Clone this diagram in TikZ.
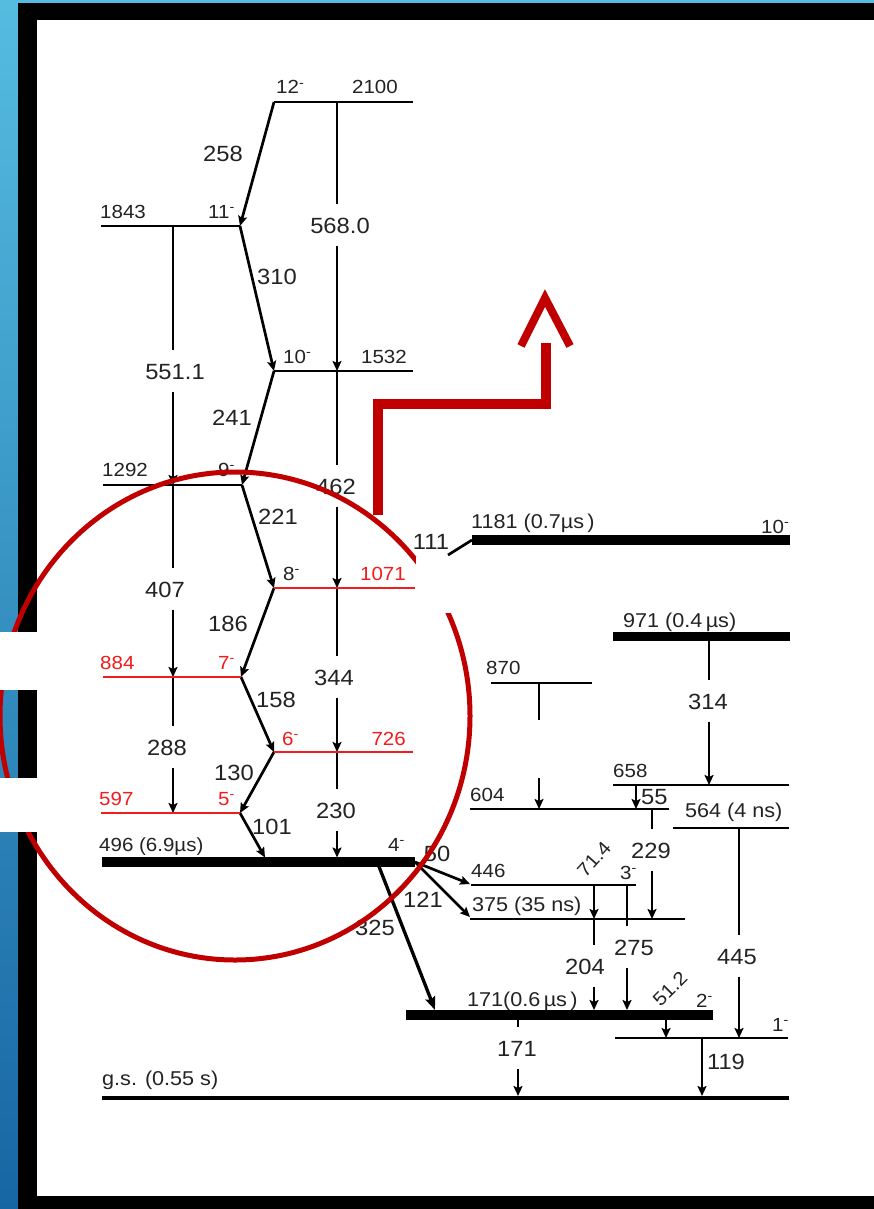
\documentclass[tikz,border=0pt]{standalone}
\usepackage{fontspec}
\setmainfont{Liberation Sans}[FakeStretch=1.08]
\usetikzlibrary{arrows.meta}
\definecolor{txt}{HTML}{232323}
\definecolor{lvred}{HTML}{F21C1C}
\definecolor{mk}{HTML}{C00000}
\definecolor{blueT}{HTML}{55BCE0}
\definecolor{blueB}{HTML}{1766A3}
\newcommand\mneg{\textsuperscript{-}}
\tikzset{
  lv/.style={line width=2.6pt},
  lvr/.style={line width=2.4pt, draw=lvred},
  lvt/.style={line width=9.5pt},
  tr/.style={line width=2.7pt, -{Stealth[length=10pt,width=9pt,inset=2pt]}},
  trn/.style={line width=2.7pt},
  gl/.style={font=\fontsize{22}{22}\selectfont, text=txt, inner sep=0pt},
  gg/.style={gl, inner xsep=1pt, inner ysep=12.5pt, text height=16pt, text depth=0pt},
  gr/.style={gl, font=\fontsize{19}{19}\selectfont},
  ll/.style={font=\fontsize{19}{19}\selectfont, text=txt, inner sep=0pt},
  llr/.style={ll, text=lvred},
  rl/.style={font=\fontsize{20}{20}\selectfont, text=txt, inner sep=0pt},
  hl/.style={draw=mk, line width=5pt},
}
\begin{document}
\begin{tikzpicture}[x=1pt,y=-1pt]
\useasboundingbox (0,0) rectangle (874,1209);
% frame
\shade[top color=blueT, bottom color=blueB] (0,0) rectangle (874,1209);
\fill[black] (18,3) rectangle (874,1209);
\fill[white] (37,20) rectangle (874,1196);

% ---------- left band levels ----------
\coordinate (a2100) at (274,102); \coordinate (b2100) at (413,102);
\coordinate (a1843) at (101,226); \coordinate (b1843) at (240,226);
\coordinate (a1532) at (274,371); \coordinate (b1532) at (413,371);
\coordinate (a1292) at (103,485); \coordinate (b1292) at (242,485);
\coordinate (a1071) at (274,588); \coordinate (b1071) at (415,588);
\coordinate (a884) at (103,677);  \coordinate (b884) at (241,677);
\coordinate (a726) at (274,752);  \coordinate (b726) at (413,752);
\coordinate (a597) at (101,813);  \coordinate (b597) at (240,813);
\coordinate (a496) at (102,862);  \coordinate (b496) at (415,862);

% vertical attach points
\coordinate (v1843) at (173,226); \coordinate (v1292) at (173,485);
\coordinate (v884) at (173,677);  \coordinate (v597) at (173,813);
\coordinate (w2100) at (337,102); \coordinate (w1532) at (337,371);
\coordinate (w1071) at (337,588); \coordinate (w726) at (337,752);
\coordinate (w496) at (337,857.5); \coordinate (e101) at (265,857.5);

% zig-zag transitions
\draw[tr] (a2100) -- (b1843);
\draw[tr] (b1843) -- (a1532);
\draw[tr] (a1532) -- (b1292);
\draw[tr] (b1292) -- (a1071);
\draw[tr] (a1071) -- (b884);
\draw[tr] (b884) -- (a726);
\draw[tr] (a726) -- (b597);
\draw[tr] (b597) -- (e101);
\node[gl] (t258) at (223,154) {258};
\node[gl] (t310) at (277,277) {310};
\node[gl] (t241) at (232,418) {241};
\node[gl] (t221) at (278,517) {221};
\node[gl] (t186) at (228,624) {186};
\node[gl] (t158) at (276,700) {158};
\node[gl] (t130) at (234,773) {130};
\node[gl] (t101) at (272,827) {101};

% vertical transitions with label gaps
\node[gg] (g568) at (340,225) {568.0};
\draw[trn] (w2100) -- (w2100 |- g568.north);
\draw[tr] (w2100 |- g568.south) -- (w1532);
\node[gg] (g462) at (336,486) {462};
\draw[trn] (w1532) -- (w1532 |- g462.north);
\draw[tr] (w1532 |- g462.south) -- (w1071);
\node[gg] (g344) at (334,677) {344};
\draw[trn] (w1071) -- (w1071 |- g344.north);
\draw[tr] (w1071 |- g344.south) -- (w726);
\node[gg] (g230) at (336,810) {230};
\draw[trn] (w726) -- (w726 |- g230.north);
\draw[tr] (w726 |- g230.south) -- (w496);
\node[gg] (g551) at (175,371) {551.1};
\draw[trn] (v1843) -- (v1843 |- g551.north);
\draw[tr] (v1843 |- g551.south) -- (v1292);
\node[gg] (g407) at (165,589) {407};
\draw[trn] (v1292) -- (v1292 |- g407.north);
\draw[tr] (v1292 |- g407.south) -- (v884);
\node[gg] (g288) at (167,747) {288};
\draw[trn] (v884) -- (v884 |- g288.north);
\draw[tr] (v884 |- g288.south) -- (v597);

% level lines
\draw[lv] (a2100) -- (b2100);
\draw[lv] (a1843) -- (b1843);
\draw[lv] (a1532) -- (b1532);
\draw[lv] (a1292) -- (b1292);
\draw[lvr] (a1071) -- (b1071);
\draw[lvr] (a884) -- (b884);
\draw[lvr] (a726) -- (b726);
\draw[lvr] (a597) -- (b597);
\draw[lvt] (a496) -- (b496);

% level labels
\node[ll, anchor=base west] (s12) at (276,94) {12\mneg};
\node[ll, anchor=base east] (e2100) at (398,94) {2100};
\node[ll, anchor=base west] (e1843) at (100,218) {1843};
\node[ll, anchor=base west] (s11) at (208,218) {11\mneg};
\node[ll, anchor=base west] (s10) at (283,363) {10\mneg};
\node[ll, anchor=base east] (e1532) at (407,363) {1532};
\node[ll, anchor=base west] (e1292) at (102,476) {1292};
\node[ll, anchor=base west] (s9) at (218,476) {9\mneg};
\node[ll, anchor=base west] (s8) at (283,580) {8\mneg};
\node[llr, anchor=base east] (e1071) at (406,580) {1071};
\node[llr, anchor=base west] (e884) at (100,669) {884};
\node[llr, anchor=base west] (s7) at (218,669) {7\mneg};
\node[llr, anchor=base west] (s6) at (282,745) {6\mneg};
\node[llr, anchor=base east] (e726) at (406,745) {726};
\node[llr, anchor=base west] (e597) at (99,805) {597};
\node[llr, anchor=base west] (s5) at (218,805) {5\mneg};
\node[ll, anchor=base west] (e496) at (99,851) {496 (6.9µs)};
\node[ll, anchor=base west] (s4) at (388,851) {4\mneg};

% ---------- right band levels ----------
\coordinate (a1181) at (472,540); \coordinate (b1181) at (790,540);
\coordinate (a971) at (613,636);  \coordinate (b971) at (790,636);
\coordinate (a870) at (491,683);  \coordinate (b870) at (592,683);
\coordinate (a658) at (613,785);  \coordinate (b658) at (789,785);
\coordinate (a604) at (470,809);  \coordinate (b604) at (669,809);
\coordinate (a564) at (673,828);  \coordinate (b564) at (789,828);
\coordinate (a446) at (471,885);  \coordinate (b446) at (636,885);
\coordinate (a375) at (470,919);  \coordinate (b375) at (685,919);
\coordinate (a171) at (406,1015); \coordinate (b171) at (713,1015);
\coordinate (a1m) at (615,1038);  \coordinate (b1m) at (788,1038);
\coordinate (ags) at (102,1098);  \coordinate (bgs) at (789,1098);

% right transitions
\coordinate (s111) at (448,555);
\draw[trn] (s111) -- (a1181);
\node[gl] (t111) at (431,542) {111};

\coordinate (p314a) at (709,636); \coordinate (p314b) at (709,785);
\node[gg] (g314) at (708,701) {314};
\draw[trn] (p314a) -- (p314a |- g314.north);
\draw[tr] (p314a |- g314.south) -- (p314b);

\coordinate (p870a) at (539,683); \coordinate (p870b) at (539,720);
\coordinate (p870c) at (539,778); \coordinate (p870d) at (539,809);
\draw[trn] (p870a) -- (p870b);
\draw[tr] (p870c) -- (p870d);

\coordinate (p55a) at (636,785); \coordinate (p55b) at (636,809);
\draw[tr] (p55a) -- (p55b);
\node[gl, anchor=west] (t55) at (641,797) {55};

\coordinate (p229a) at (652,809); \coordinate (p229b) at (652,919);
\node[gg] (g229) at (651,850) {229};
\draw[trn] (p229a) -- (p229a |- g229.north);
\draw[tr] (p229a |- g229.south) -- (p229b);

\coordinate (p445a) at (739,828); \coordinate (p445b) at (739,1038);
\node[gg] (g445) at (737,956) {445};
\draw[trn] (p445a) -- (p445a |- g445.north);
\draw[tr] (p445a |- g445.south) -- (p445b);

\coordinate (e50) at (470,884); \coordinate (e121) at (470,917);
\draw[tr] (b496) -- (e50);
\draw[tr] (b496) -- (e121);
\node[gl] (t50) at (437,854) {50};
\node[gl] (t121) at (423,900) {121};

\coordinate (s325) at (378,864); \coordinate (e325) at (435,1010);
\draw[line width=3.3pt, -{Stealth[length=13pt,width=10pt,inset=2pt]}] (s325) -- (e325);
\node[gl] (t325) at (375,928) {325};

\coordinate (p71a) at (594,885); \coordinate (p71b) at (594,919);
\draw[tr] (p71a) -- (p71b);
\node[gr, rotate=48] (t71) at (594,859) {71.4};

\coordinate (p204b) at (594,1010);
\node[gg] (g204) at (585,966) {204};
\draw[trn] (p71b) -- (p71b |- g204.north);
\draw[tr] (p71b |- g204.south) -- (p204b);

\coordinate (p275a) at (627,885); \coordinate (p275b) at (627,1010);
\node[gg] (g275) at (634,947) {275};
\draw[trn] (p275a) -- (p275a |- g275.north);
\draw[tr] (p275a |- g275.south) -- (p275b);

\coordinate (p51a) at (666,1015); \coordinate (p51b) at (666,1038);
\draw[tr] (p51a) -- (p51b);
\node[gr, rotate=45] (t51) at (670,989) {51.2};

\coordinate (p119a) at (702,1038); \coordinate (p119b) at (702,1096);
\draw[tr] (p119a) -- (p119b);
\node[gl] (t119) at (726,1062) {119};

\coordinate (p171a) at (518,1015); \coordinate (p171b) at (518,1096);
\node[gg] (g171) at (517,1048) {171};
\draw[trn] (p171a) -- (p171a |- g171.north);
\draw[tr] (p171a |- g171.south) -- (p171b);

% right level lines
\draw[line width=10pt] (a1181) -- (b1181);
\draw[line width=9pt] (a971) -- (b971);
\draw[lv] (a870) -- (b870);
\draw[lv] (a658) -- (b658);
\draw[lv] (a604) -- (b604);
\draw[lv] (a564) -- (b564);
\draw[lv] (a446) -- (b446);
\draw[lv] (a375) -- (b375);
\draw[line width=10pt] (a171) -- (b171);
\draw[lv] (a1m) -- (b1m);
\draw[line width=3.5pt] (ags) -- (bgs);

% right level labels
\node[rl, anchor=base west] (e1181) at (471,528) {1181 (0.7µs\,)};
\node[ll, anchor=base west] (s10b) at (761,533) {10\mneg};
\node[rl, anchor=base west] (e971) at (623,627) {971 (0.4\,µs)};
\node[ll, anchor=base west] (e870) at (486,674) {870};
\node[ll, anchor=base west] (e658) at (613,777) {658};
\node[ll, anchor=base west] (e604) at (470,801) {604};
\node[rl, anchor=base west] (e564) at (685,817) {564 (4 ns)};
\node[ll, anchor=base west] (e446) at (471,877) {446};
\node[ll, anchor=base west] (s3) at (620,879) {3\mneg};
\node[rl, anchor=base west] (e375) at (472,911) {375 (35 ns)};
\node[rl, anchor=base west] (e171) at (467,1006) {171(0.6\,µs\,)};
\node[ll, anchor=base west] (s2) at (696,1007) {2\mneg};
\node[ll, anchor=base west] (s1) at (772,1031) {1\mneg};
\node[rl, anchor=base west] (egs) at (102,1085) {g.s. (0.55 s)};

% ---------- highlight overlay ----------
\draw[hl] (235,716) ellipse [x radius=235pt, y radius=244pt];
\fill[white] (416,557) rectangle (468,613);
\fill[white] (0,632) rectangle (37,690);
\fill[white] (0,778) rectangle (37,832);
\draw[draw=mk, line width=10pt, line join=miter] (378,515) -- (378,404) -- (546,404) -- (546,343);
\draw[draw=mk, line width=8pt, line join=miter] (521,346) -- (545,298) -- (570,346);
\end{tikzpicture}
\end{document}
